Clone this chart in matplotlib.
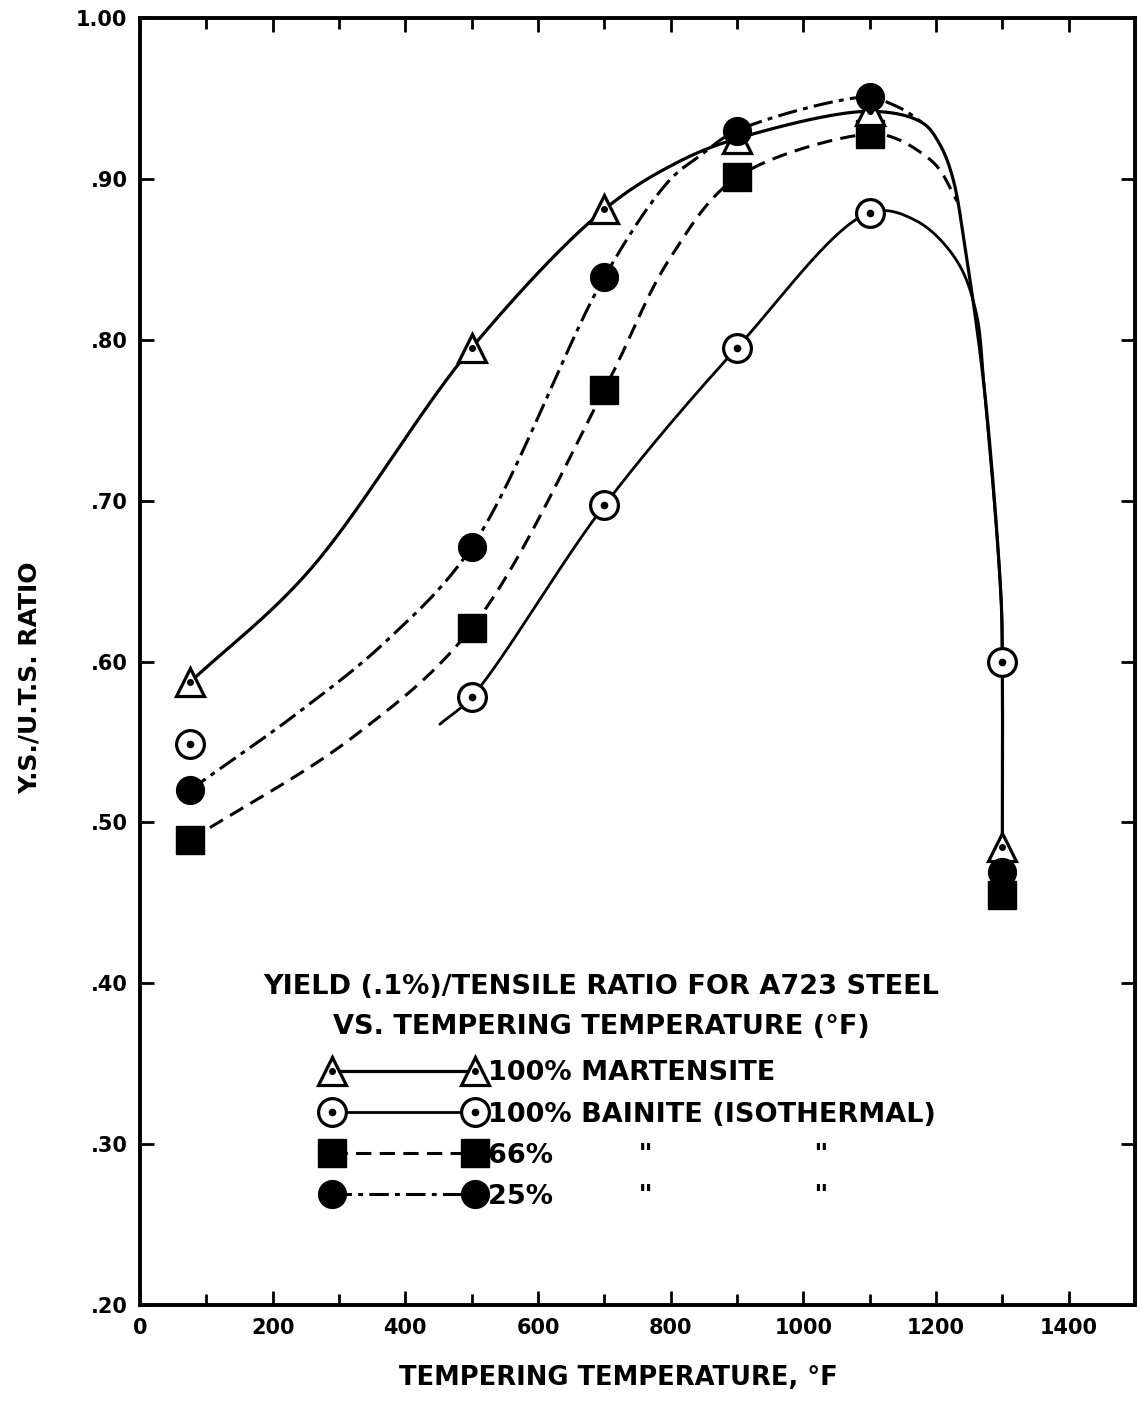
import numpy as np
import matplotlib
matplotlib.use("Agg")
import matplotlib.pyplot as plt
from matplotlib.lines import Line2D
from matplotlib.ticker import FuncFormatter, FixedLocator

plt.rcParams['font.family'] = ['DejaVu Sans']
plt.rcParams['font.weight'] = 'bold'
plt.rcParams['lines.scale_dashes'] = False

# ---- data (tempering temperature, deg F) ----
temps = [75, 500, 700, 900, 1100, 1300]
martensite = [0.587, 0.795, 0.881, 0.925, 0.942, 0.485]
bainite = [0.549, 0.578, 0.697, 0.795, 0.879, 0.600]
bainite66 = [0.489, 0.621, 0.769, 0.901, 0.928, 0.455]
bainite25 = [0.520, 0.671, 0.839, 0.930, 0.951, 0.469]

# ---- hand-drawn curve paths ----
mart_cx = [75, 252, 500, 700, 809, 900, 1100, 1179, 1205, 1225, 1245, 1273, 1298, 1300, 1300]
mart_cy = [0.587, 0.655, 0.795, 0.881, 0.910, 0.925, 0.942, 0.935, 0.922, 0.901, 0.854, 0.769, 0.640, 0.600, 0.485]
bain_cx = [452, 500, 700, 900, 1100, 1170, 1230, 1260, 1273, 1298, 1300]
bain_cy = [0.561, 0.578, 0.697, 0.795, 0.879, 0.874, 0.850, 0.818, 0.769, 0.640, 0.600]
b66_cx = [75, 321, 500, 700, 798, 900, 1100, 1140, 1185, 1205, 1232]
b66_cy = [0.489, 0.553, 0.621, 0.769, 0.850, 0.901, 0.928, 0.925, 0.914, 0.906, 0.886]
b25_cx = [75, 241, 372, 500, 700, 798, 843, 900, 1100, 1130, 1155, 1179]
b25_cy = [0.520, 0.569, 0.613, 0.671, 0.839, 0.899, 0.914, 0.930, 0.951, 0.947, 0.942, 0.935]

legend_title = 'YIELD (.1%)/TENSILE RATIO FOR A723 STEEL\nVS. TEMPERING TEMPERATURE (°F)'
legend_labels = ['100% MARTENSITE', '100% BAINITE (ISOTHERMAL)',
                 '66%         "                 "', '25%         "                 "']

XMAX, YMIN, YMAX = 1500, 0.20, 1.00
AX_W, AX_H = 995.0, 1287.0


def smooth(xs, ys, n=40):
    """centripetal Catmull-Rom through the given path (in screen-like units)"""
    P = np.column_stack([np.asarray(xs, float) / XMAX * AX_W,
                         (np.asarray(ys, float) - YMIN) / (YMAX - YMIN) * AX_H])
    P = np.vstack([2 * P[0] - P[1], P, 2 * P[-1] - P[-2]])
    out = []
    for i in range(1, len(P) - 2):
        p0, p1, p2, p3 = P[i - 1], P[i], P[i + 1], P[i + 2]
        t0 = 0.0
        t1 = t0 + np.linalg.norm(p1 - p0) ** 0.5
        t2 = t1 + np.linalg.norm(p2 - p1) ** 0.5
        t3 = t2 + np.linalg.norm(p3 - p2) ** 0.5
        t = np.linspace(t1, t2, n)[:, None]
        A1 = (t1 - t) / (t1 - t0) * p0 + (t - t0) / (t1 - t0) * p1
        A2 = (t2 - t) / (t2 - t1) * p1 + (t - t1) / (t2 - t1) * p2
        A3 = (t3 - t) / (t3 - t2) * p2 + (t - t2) / (t3 - t2) * p3
        B1 = (t2 - t) / (t2 - t0) * A1 + (t - t0) / (t2 - t0) * A2
        B2 = (t3 - t) / (t3 - t1) * A2 + (t - t1) / (t3 - t1) * A3
        C = (t2 - t) / (t2 - t1) * B1 + (t - t1) / (t2 - t1) * B2
        out.append(C if i == 1 else C[1:])
    C = np.vstack(out)
    return C[:, 0] / AX_W * XMAX, C[:, 1] / AX_H * (YMAX - YMIN) + YMIN


fig = plt.figure(figsize=(11.4, 14.09), dpi=100)
ax = fig.add_axes([140 / 1140, 1 - 1305 / 1409, (1135 - 140) / 1140, (1305 - 18) / 1409])

dashed = (0, (11, 6))
dashdot = (0, (14, 4.5, 3.5, 4.5))
LW = 2.3

# curves
x, y = smooth(mart_cx, mart_cy)
ax.plot(x, y, color='black', lw=LW, ls='-', solid_capstyle='round', zorder=2)
x, y = smooth(bain_cx, bain_cy)
ax.plot(x, y, color='black', lw=2.0, ls='-', solid_capstyle='round', zorder=2)
x, y = smooth(b66_cx, b66_cy)
ax.plot(x, y, color='black', lw=2.2, ls=dashed, zorder=2)
x, y = smooth(b25_cx, b25_cy)
ax.plot(x, y, color='black', lw=2.2, ls=dashdot, zorder=2)

# markers
MS = 20
ax.plot(temps, bainite66, ls='none', marker='s', ms=MS - 0.5, mfc='black', mec='black', zorder=4)
ax.plot(temps, bainite, ls='none', marker='o', ms=MS, mfc='white', mec='black', mew=2.3, zorder=5)
ax.plot(temps, bainite, ls='none', marker='o', ms=4.5, mfc='black', mec='black', zorder=6)
ax.plot(temps, martensite, ls='none', marker='^', ms=MS, mfc='white', mec='black', mew=2.3, zorder=4)
ax.plot(temps, martensite, ls='none', marker='o', ms=4, mfc='black', mec='black', zorder=4.5)
ax.plot(temps, bainite25, ls='none', marker='o', ms=MS, mfc='black', mec='black', zorder=5)

# axes styling
ax.set_xlim(0, XMAX)
ax.set_ylim(YMIN, YMAX)
ax.xaxis.set_major_locator(FixedLocator(list(range(0, 1401, 200))))
ax.xaxis.set_minor_locator(FixedLocator(list(range(100, 1401, 200))))
ax.yaxis.set_major_locator(FixedLocator([0.2, 0.3, 0.4, 0.5, 0.6, 0.7, 0.8, 0.9, 1.0]))
ax.yaxis.set_major_formatter(FuncFormatter(lambda v, p: f'{v:.2f}'.lstrip('0') if v < 1 else f'{v:.2f}'))
ax.tick_params(which='both', direction='in', top=True, right=True, width=2, labelsize=15, pad=9)
ax.tick_params(which='major', length=10)
ax.tick_params(which='minor', length=8)
for s in ax.spines.values():
    s.set_linewidth(2.8)

ax.set_xlabel('TEMPERING TEMPERATURE, °F', fontsize=18.5, fontweight='bold')
ax.xaxis.set_label_coords(0.481, -0.047)
ax.set_ylabel('Y.S./U.T.S. RATIO', fontsize=18, fontweight='bold')
ax.yaxis.set_label_coords(-0.0985, 0.487)

# legend
FS = 19.5
ax.text(0.464, 0.2316, legend_title, transform=ax.transAxes, ha='center', va='center',
        fontsize=FS, fontweight='bold', linespacing=1.7)
h_m = (Line2D([], [], color='black', lw=LW, marker='^', ms=MS, mfc='white', mec='black', mew=2.3),
       Line2D([], [], ls='none', marker='o', ms=4, mfc='black', mec='black'))
h_b = (Line2D([], [], color='black', lw=2.0, marker='o', ms=MS, mfc='white', mec='black', mew=2.3),
       Line2D([], [], ls='none', marker='o', ms=4.5, mfc='black', mec='black'))
h_66 = Line2D([], [], color='black', lw=2.2, ls=dashed, marker='s', ms=MS - 0.5, mfc='black', mec='black')
h_25 = Line2D([], [], color='black', lw=2.2, ls=dashdot, marker='o', ms=MS, mfc='black', mec='black')
leg = ax.legend([h_m, h_b, h_66, h_25], legend_labels, numpoints=2, frameon=False,
                handlelength=5.9, handletextpad=0.15, labelspacing=0.555, borderpad=0,
                fontsize=FS, loc='upper left', bbox_to_anchor=(0.171, 0.2005))

fig.savefig('out.png', dpi=100)
